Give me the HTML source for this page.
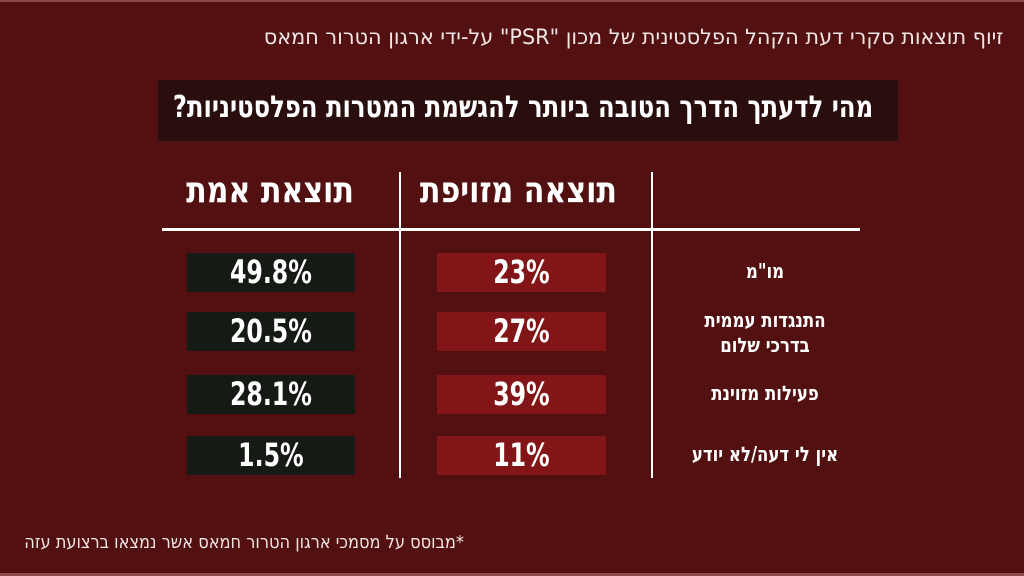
<!DOCTYPE html>
<html><head><meta charset="utf-8"><style>
body{margin:0;width:1024px;height:576px;background:#521011;overflow:hidden;position:relative;font-family:"DejaVu Sans Condensed","Liberation Sans Narrow","Liberation Sans",sans-serif;color:#fff}
.a{position:absolute}
.t{white-space:nowrap;direction:rtl}
</style></head><body>
<div class="a" style="left:0;top:0;width:1024px;height:2px;background:#8a4a4a"></div>
<div class="a t" style="right:20px;top:25px;font-size:21px;color:#f0e6e6;transform:scaleX(1.1);transform-origin:right">זיוף תוצאות סקרי דעת הקהל הפלסטינית של מכון "PSR" על-ידי ארגון הטרור חמאס</div>
<div class="a" style="left:158px;top:80px;width:740px;height:61px;background:#2a0e0e"></div>
<div class="a t" style="right:151px;top:90px;font-size:30px;font-weight:bold;transform:scaleX(.9);transform-origin:right">מהי לדעתך הדרך הטובה ביותר להגשמת המטרות הפלסטיניות?</div>
<div class="a" style="left:162px;top:228px;width:698px;height:3px;background:#fff"></div>
<div class="a" style="left:399px;top:172px;width:2px;height:306px;background:#fff"></div>
<div class="a" style="left:651px;top:172px;width:2px;height:306px;background:#fff"></div>
<div class="a t" style="left:170px;width:200px;text-align:center;top:170px;font-size:36px;font-weight:bold;transform:scaleX(.93)">תוצאת אמת</div>
<div class="a t" style="left:424px;width:200px;text-align:center;top:170px;font-size:36px;font-weight:bold;transform:scaleX(.93)">תוצאה מזויפת</div>
<div id="rows"></div>
<div class="a t" style="right:560px;top:532px;font-size:18px;color:#f0e6e6;transform:scaleX(1.0);transform-origin:right">*מבוסס על מסמכי ארגון הטרור חמאס אשר נמצאו ברצועת עזה</div>
<div class="a" style="left:0;top:573px;width:1024px;height:3px;background:#8a4a4a"></div>
<script>
const categories=["מו\"מ","התנגדות עממית<br>בדרכי שלום","פעילות מזוינת","אין לי דעה/לא יודע"];
const realValues=["49.8%","20.5%","28.1%","1.5%"];
const fakeValues=["23%","27%","39%","11%"];
const rowTops=[253,312,375,436];
const root=document.getElementById('rows');
function mk(style,html){const d=document.createElement('div');d.className='a t';d.style.cssText=style;d.innerHTML=html;root.appendChild(d);return d;}
categories.forEach((c,i)=>{
  const y=rowTops[i];
  const r=mk(`left:187px;top:${y}px;width:168px;height:39px;background:#161a14;text-align:center;line-height:39px;font-size:32px;font-weight:bold;direction:ltr`,`<span style="display:inline-block;transform:scaleX(.82)">${realValues[i]}</span>`);
  
  
  const f=mk(`left:437px;top:${y}px;width:169px;height:39px;background:#821517;text-align:center;line-height:39px;font-size:32px;font-weight:bold;direction:ltr`,`<span style="display:inline-block;transform:scaleX(.82)">${fakeValues[i]}</span>`);
  
  
  const multi=c.includes('<br>');
  const l=mk(`left:670px;width:190px;top:${multi?y-4:y+6}px;text-align:center;font-size:20px;font-weight:bold;line-height:25px;transform:scaleX(.92)`,c);
  
  
});
</script>
</body></html>
